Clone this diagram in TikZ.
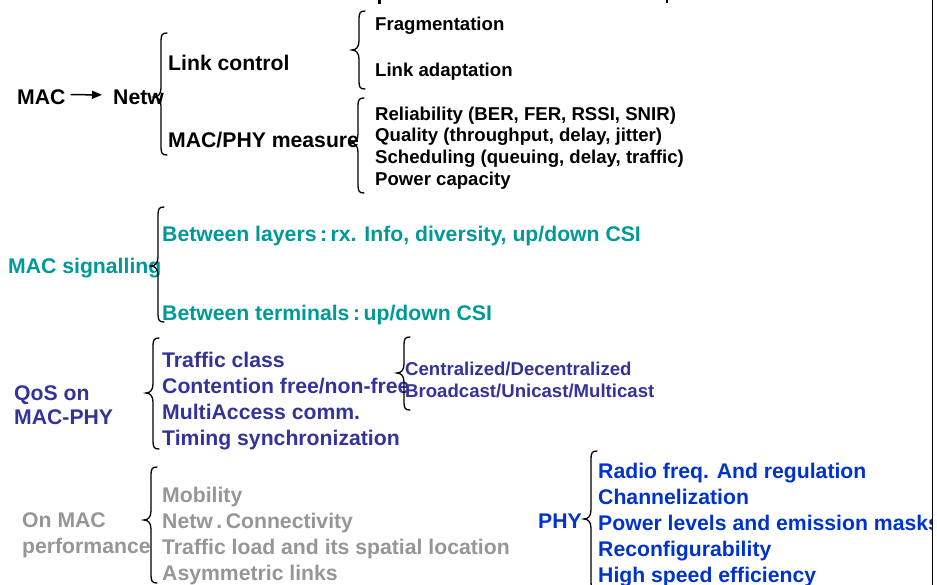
\documentclass[tikz,border=0pt]{standalone}
\usepackage{fontspec}
\setmainfont{Liberation Sans}
\usetikzlibrary{arrows.meta}
\definecolor{tealc}{RGB}{0,153,153}
\definecolor{indigoc}{RGB}{51,51,153}
\definecolor{grayc}{RGB}{150,150,150}
\definecolor{bluec}{RGB}{0,51,204}
% #1 xspine, #2 ytop, #3 ymid, #4 ybot (y downwards)
\newcommand{\curlybr}[4]{%
  \draw[bracestyle] (#1+6,#2) .. controls (#1+1,#2) and (#1,#2+2) .. (#1,#2+8) -- (#1,#3-9)
    .. controls (#1,#3-3) and (#1-3,#3) .. (#1-7,#3)
    .. controls (#1-3,#3) and (#1,#3+3) .. (#1,#3+9)
    -- (#1,#4-8) .. controls (#1,#4-2) and (#1+1,#4) .. (#1+6,#4);}
\tikzset{
  bracestyle/.style={black, line width=1.3pt, line cap=round},
  big/.style={anchor=base west, inner sep=0pt, font=\fontsize{21.2}{25}\selectfont\bfseries},
  sml/.style={anchor=base west, inner sep=0pt, font=\fontsize{18.6}{22}\selectfont\bfseries},
}
\begin{document}
\begin{tikzpicture}[x=1pt,y=-1pt]
\useasboundingbox (0,0) rectangle (937,585);
\fill[white] (0,0) rectangle (937,585);
\begin{scope}
\clip (0,0) rectangle (932,585);
% top block
\node[big] (mac) at (17,105) {MAC};
\node[big] (netw) at (113,105) {Netw};
\draw[line width=1.5pt, -{Triangle[length=10pt,width=8pt]}] ([xshift=5pt,yshift=3pt]mac.east) -- ([xshift=-11pt,yshift=3pt]netw.west);
\curlybr{161}{33}{97}{155}
\node[big] (lc) at (168,71) {Link control};
\node[big] (mpm) at (168,148) {MAC/PHY measure};
\curlybr{359}{11}{50}{89}
\node[sml] (frag) at (375,31) {Fragmentation};
\node[sml] (la) at (375,77) {Link adaptation};
\curlybr{358}{98}{143}{193}
\node[sml] (rel) at (375,121) {Reliability (BER, FER, RSSI, SNIR)};
\node[sml] (qual) at (375,142) {Quality (throughput, delay, jitter)};
\node[sml] (sched) at (375,164) {Scheduling (queuing, delay, traffic)};
\node[sml] (pow) at (375,186) {Power capacity};
% MAC signalling
\node[big, text=tealc] (macs) at (8,274) {MAC signalling};
\curlybr{158}{207}{266}{322}
\node[big, text=tealc] (bl) at (162,242) {Between layers\,:\,rx. Info, diversity, up/down CSI};
\node[big, text=tealc] (bt) at (162,320) {Between terminals\,:\,up/down CSI};
% QoS
\node[big, text=indigoc] (qos1) at (14,400) {QoS on};
\node[big, text=indigoc] (qos2) at (14,424) {MAC-PHY};
\curlybr{153}{338}{393}{449}
\node[big, text=indigoc] (tc) at (162,367) {Traffic class};
\node[big, text=indigoc] (cf) at (162,393) {Contention free/non-free};
\node[big, text=indigoc] (ma) at (162,419) {MultiAccess comm.};
\node[big, text=indigoc] (ts) at (162,445) {Timing synchronization};
\curlybr{404}{337}{373}{410}
\node[sml, text=indigoc] (cd) at (405,375) {Centralized/Decentralized};
\node[sml, text=indigoc] (bu) at (405,397) {Broadcast/Unicast/Multicast};
% On MAC performance
\node[big, text=grayc] (om1) at (22,527) {On MAC};
\node[big, text=grayc] (om2) at (22,553) {performance};
\curlybr{151}{467}{520}{583}
\node[big, text=grayc] (mob) at (162,502) {Mobility};
\node[big, text=grayc] (nc) at (162,528) {Netw\,.\,Connectivity};
\node[big, text=grayc] (tl) at (162,554) {Traffic load and its spatial location};
\node[big, text=grayc] (al) at (162,580) {Asymmetric links};
% PHY
\node[big, text=bluec] (phy) at (538,528) {PHY};
\curlybr{591}{451}{519}{590}
\node[big, text=bluec] (rf) at (598,478) {Radio freq. And regulation};
\node[big, text=bluec] (ch) at (598,504) {Channelization};
\node[big, text=bluec] (pl) at (598,530) {Power levels and emission masks};
\node[big, text=bluec] (rc) at (598,556) {Reconfigurability};
\node[big, text=bluec] (hs) at (598,582) {High speed efficiency};
% remnants of cut-off text at top edge
\fill (378,0) rectangle (381,4);
\fill (666,0) rectangle (668,3);
\end{scope}
\draw[line width=1.5pt] (932.5,0) -- (932.5,585);
\end{tikzpicture}
\end{document}
